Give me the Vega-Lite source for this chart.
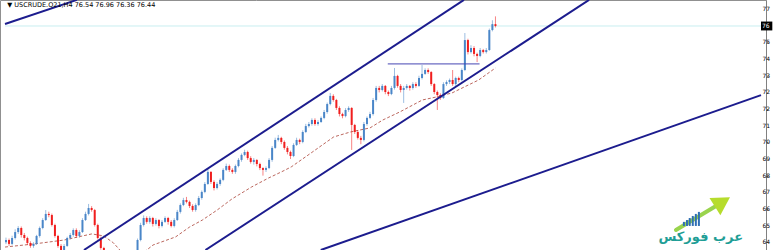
{
  "$schema": "https://vega.github.io/schema/vega-lite/v6.json",
  "width": 766,
  "height": 250,
  "padding": {"left": 0, "top": 0, "right": 10, "bottom": 0},
  "autosize": {"type": "none"},
  "background": "#ffffff",
  "config": {
    "view": {"stroke": "#909090", "strokeWidth": 1},
    "axisY": {"labels": false, "tickSize": 2, "tickColor": "#808080", "domainColor": "#808080", "grid": false}
  },
  "datasets": {
    "candles": [
      {"i":0,"o":64.75,"h":65.0,"l":64.65,"c":64.87},{"i":1,"o":64.87,"h":64.95,"l":64.55,"c":64.66},{"i":2,"o":64.66,"h":65.1,"l":64.6,"c":64.98},{"i":3,"o":64.98,"h":65.45,"l":64.9,"c":65.3},{"i":4,"o":65.3,"h":65.62,"l":65.2,"c":65.52},{"i":5,"o":65.52,"h":65.6,"l":65.0,"c":65.14},{"i":6,"o":65.14,"h":65.25,"l":64.85,"c":64.98},{"i":7,"o":64.98,"h":65.05,"l":64.6,"c":64.71},{"i":8,"o":64.71,"h":64.8,"l":64.45,"c":64.55},{"i":9,"o":64.55,"h":64.75,"l":64.45,"c":64.66},
      {"i":10,"o":64.66,"h":65.15,"l":64.6,"c":65.09},{"i":11,"o":65.09,"h":65.6,"l":65.0,"c":65.52},{"i":12,"o":65.52,"h":66.05,"l":65.45,"c":65.95},{"i":13,"o":65.95,"h":66.49,"l":65.9,"c":66.28},{"i":14,"o":66.28,"h":66.4,"l":66.1,"c":66.22},{"i":15,"o":66.22,"h":66.3,"l":65.6,"c":65.68},{"i":16,"o":65.68,"h":65.75,"l":65.0,"c":65.09},{"i":17,"o":65.09,"h":65.15,"l":64.45,"c":64.55},{"i":18,"o":64.55,"h":64.65,"l":64.1,"c":64.22},{"i":19,"o":64.22,"h":64.65,"l":64.15,"c":64.55},
      {"i":20,"o":64.55,"h":65.05,"l":64.5,"c":64.98},{"i":21,"o":64.98,"h":65.25,"l":64.9,"c":65.14},{"i":22,"o":65.14,"h":65.5,"l":65.05,"c":65.41},{"i":23,"o":65.41,"h":65.5,"l":65.0,"c":65.09},{"i":24,"o":65.09,"h":65.4,"l":65.0,"c":65.3},{"i":25,"o":65.3,"h":66.05,"l":65.25,"c":65.95},{"i":26,"o":65.95,"h":66.4,"l":65.9,"c":66.28},{"i":27,"o":66.28,"h":66.82,"l":66.2,"c":66.6},{"i":28,"o":66.6,"h":66.7,"l":66.4,"c":66.49},{"i":29,"o":66.49,"h":66.55,"l":65.6,"c":65.68},
      {"i":30,"o":65.68,"h":65.75,"l":64.9,"c":64.98},{"i":31,"o":64.98,"h":65.05,"l":64.35,"c":64.44},{"i":32,"o":64.44,"h":64.5,"l":63.9,"c":64.01},{"i":33,"o":64.01,"h":64.1,"l":63.6,"c":63.68},{"i":34,"o":63.68,"h":63.75,"l":63.4,"c":63.52},{"i":35,"o":63.52,"h":63.6,"l":63.25,"c":63.36},{"i":36,"o":63.36,"h":63.45,"l":63.1,"c":63.25},{"i":37,"o":63.25,"h":63.45,"l":63.15,"c":63.36},{"i":38,"o":63.36,"h":63.4,"l":63.0,"c":63.14},{"i":39,"o":63.14,"h":63.55,"l":63.05,"c":63.47},
      {"i":40,"o":63.47,"h":63.75,"l":63.4,"c":63.68},{"i":41,"o":63.68,"h":64.0,"l":63.6,"c":63.9},{"i":42,"o":63.9,"h":64.2,"l":63.85,"c":64.12},{"i":43,"o":64.12,"h":64.95,"l":64.05,"c":64.87},{"i":44,"o":64.87,"h":65.8,"l":64.8,"c":65.68},{"i":45,"o":65.68,"h":66.2,"l":65.6,"c":66.06},{"i":46,"o":66.06,"h":66.15,"l":65.75,"c":65.85},{"i":47,"o":65.85,"h":66.15,"l":65.75,"c":66.06},{"i":48,"o":66.06,"h":66.12,"l":65.6,"c":65.74},{"i":49,"o":65.74,"h":66.05,"l":65.65,"c":65.95},
      {"i":50,"o":65.95,"h":66.0,"l":65.5,"c":65.63},{"i":51,"o":65.63,"h":65.95,"l":65.55,"c":65.85},{"i":52,"o":65.85,"h":66.15,"l":65.8,"c":66.06},{"i":53,"o":66.06,"h":66.12,"l":65.7,"c":65.85},{"i":54,"o":65.85,"h":65.95,"l":65.55,"c":65.63},{"i":55,"o":65.63,"h":66.05,"l":65.55,"c":65.95},{"i":56,"o":65.95,"h":66.5,"l":65.9,"c":66.39},{"i":57,"o":66.39,"h":66.85,"l":66.3,"c":66.76},{"i":58,"o":66.76,"h":67.15,"l":66.7,"c":67.03},{"i":59,"o":67.03,"h":67.2,"l":66.85,"c":66.93},
      {"i":60,"o":66.93,"h":67.0,"l":66.6,"c":66.71},{"i":61,"o":66.71,"h":66.8,"l":66.4,"c":66.49},{"i":62,"o":66.49,"h":66.85,"l":66.4,"c":66.76},{"i":63,"o":66.76,"h":67.25,"l":66.7,"c":67.14},{"i":64,"o":67.14,"h":67.55,"l":67.05,"c":67.47},{"i":65,"o":67.47,"h":68.0,"l":67.4,"c":67.9},{"i":66,"o":67.9,"h":68.76,"l":67.85,"c":68.55},{"i":67,"o":68.55,"h":68.6,"l":67.9,"c":68.01},{"i":68,"o":68.01,"h":68.1,"l":67.55,"c":67.68},{"i":69,"o":67.68,"h":68.0,"l":67.6,"c":67.9},
      {"i":70,"o":67.9,"h":68.2,"l":67.8,"c":68.12},{"i":71,"o":68.12,"h":68.75,"l":68.05,"c":68.66},{"i":72,"o":68.66,"h":69.0,"l":68.6,"c":68.87},{"i":73,"o":68.87,"h":68.95,"l":68.55,"c":68.66},{"i":74,"o":68.66,"h":68.75,"l":68.45,"c":68.55},{"i":75,"o":68.55,"h":68.95,"l":68.45,"c":68.87},{"i":76,"o":68.87,"h":69.3,"l":68.8,"c":69.2},{"i":77,"o":69.2,"h":69.55,"l":69.1,"c":69.47},{"i":78,"o":69.47,"h":69.75,"l":69.4,"c":69.63},{"i":79,"o":69.63,"h":69.7,"l":69.2,"c":69.3},
      {"i":80,"o":69.3,"h":69.4,"l":69.0,"c":69.09},{"i":81,"o":69.09,"h":69.3,"l":68.95,"c":69.2},{"i":82,"o":69.2,"h":69.25,"l":68.85,"c":68.98},{"i":83,"o":68.98,"h":69.05,"l":68.65,"c":68.76},{"i":84,"o":68.76,"h":68.8,"l":68.35,"c":68.66},{"i":85,"o":68.66,"h":68.85,"l":68.55,"c":68.76},{"i":86,"o":68.76,"h":69.3,"l":68.7,"c":69.2},{"i":87,"o":69.2,"h":69.95,"l":69.1,"c":69.85},{"i":88,"o":69.85,"h":70.4,"l":69.8,"c":70.28},{"i":89,"o":70.28,"h":70.55,"l":70.2,"c":70.39},
      {"i":90,"o":70.39,"h":70.45,"l":70.05,"c":70.17},{"i":91,"o":70.17,"h":70.25,"l":69.75,"c":69.85},{"i":92,"o":69.85,"h":69.95,"l":69.5,"c":69.63},{"i":93,"o":69.63,"h":69.7,"l":69.25,"c":69.41},{"i":94,"o":69.41,"h":70.1,"l":69.35,"c":70.01},{"i":95,"o":70.01,"h":70.4,"l":69.95,"c":70.28},{"i":96,"o":70.28,"h":70.35,"l":70.05,"c":70.17},{"i":97,"o":70.17,"h":70.8,"l":70.1,"c":70.71},{"i":98,"o":70.71,"h":71.15,"l":70.65,"c":71.03},{"i":99,"o":71.03,"h":71.25,"l":70.95,"c":71.14},
      {"i":100,"o":71.14,"h":71.45,"l":71.05,"c":71.36},{"i":101,"o":71.36,"h":71.45,"l":71.05,"c":71.14},{"i":102,"o":71.14,"h":71.35,"l":71.05,"c":71.25},{"i":103,"o":71.25,"h":71.55,"l":71.2,"c":71.47},{"i":104,"o":71.47,"h":71.9,"l":71.4,"c":71.79},{"i":105,"o":71.79,"h":72.3,"l":71.7,"c":72.22},{"i":106,"o":72.22,"h":72.82,"l":72.15,"c":72.66},{"i":107,"o":72.66,"h":72.75,"l":72.35,"c":72.44},{"i":108,"o":72.44,"h":72.5,"l":71.9,"c":72.01},{"i":109,"o":72.01,"h":72.1,"l":71.55,"c":71.68},
      {"i":110,"o":71.68,"h":71.75,"l":71.45,"c":71.57},{"i":111,"o":71.57,"h":72.0,"l":71.5,"c":71.9},{"i":112,"o":71.9,"h":72.1,"l":71.8,"c":72.01},{"i":113,"o":72.01,"h":72.05,"l":69.74,"c":71.09},{"i":114,"o":71.09,"h":71.15,"l":70.6,"c":70.71},{"i":115,"o":70.71,"h":70.8,"l":70.3,"c":70.39},{"i":116,"o":70.39,"h":70.5,"l":70.05,"c":70.28},{"i":117,"o":70.28,"h":71.25,"l":70.2,"c":71.14},{"i":118,"o":71.14,"h":71.55,"l":71.05,"c":71.47},{"i":119,"o":71.47,"h":71.8,"l":71.4,"c":71.68},
      {"i":120,"o":71.68,"h":72.55,"l":71.6,"c":72.44},{"i":121,"o":72.44,"h":73.2,"l":72.35,"c":73.09},{"i":122,"o":73.09,"h":73.2,"l":72.85,"c":72.98},{"i":123,"o":72.98,"h":73.3,"l":72.9,"c":73.2},{"i":124,"o":73.2,"h":73.25,"l":72.75,"c":72.87},{"i":125,"o":72.87,"h":72.95,"l":72.65,"c":72.76},{"i":126,"o":72.76,"h":73.2,"l":72.7,"c":73.09},{"i":127,"o":73.09,"h":74.17,"l":73.0,"c":73.74},{"i":128,"o":73.74,"h":73.8,"l":73.1,"c":73.2},{"i":129,"o":73.2,"h":73.3,"l":72.85,"c":72.98},
      {"i":130,"o":72.98,"h":73.2,"l":72.28,"c":73.09},{"i":131,"o":73.09,"h":73.3,"l":73.0,"c":73.2},{"i":132,"o":73.2,"h":73.25,"l":72.95,"c":73.09},{"i":133,"o":73.09,"h":73.4,"l":73.0,"c":73.3},{"i":134,"o":73.3,"h":73.4,"l":73.1,"c":73.2},{"i":135,"o":73.2,"h":73.75,"l":73.15,"c":73.63},{"i":136,"o":73.63,"h":74.33,"l":73.55,"c":73.85},{"i":137,"o":73.85,"h":74.15,"l":73.8,"c":74.06},{"i":138,"o":74.06,"h":74.15,"l":73.85,"c":73.95},{"i":139,"o":73.95,"h":74.0,"l":73.2,"c":73.3},
      {"i":140,"o":73.3,"h":73.35,"l":72.75,"c":72.87},{"i":141,"o":72.87,"h":72.95,"l":71.9,"c":72.71},{"i":142,"o":72.71,"h":72.8,"l":72.45,"c":72.55},{"i":143,"o":72.55,"h":73.4,"l":72.5,"c":73.3},{"i":144,"o":73.3,"h":73.5,"l":73.2,"c":73.41},{"i":145,"o":73.41,"h":73.6,"l":73.3,"c":73.52},{"i":146,"o":73.52,"h":74.06,"l":73.2,"c":73.3},{"i":147,"o":73.3,"h":73.7,"l":73.2,"c":73.63},{"i":148,"o":73.63,"h":73.7,"l":73.4,"c":73.52},{"i":149,"o":73.52,"h":74.15,"l":73.45,"c":74.06},
      {"i":150,"o":74.06,"h":76.06,"l":74.0,"c":75.68},{"i":151,"o":75.68,"h":75.75,"l":74.9,"c":75.03},{"i":152,"o":75.03,"h":75.4,"l":74.95,"c":75.25},{"i":153,"o":75.25,"h":75.35,"l":74.8,"c":74.93},{"i":154,"o":74.93,"h":75.0,"l":74.49,"c":74.82},{"i":155,"o":74.82,"h":75.25,"l":74.75,"c":75.14},{"i":156,"o":75.14,"h":75.2,"l":74.95,"c":75.03},{"i":157,"o":75.03,"h":75.25,"l":74.95,"c":75.14},{"i":158,"o":75.14,"h":76.3,"l":75.1,"c":76.22},{"i":159,"o":76.22,"h":76.75,"l":76.15,"c":76.54},
      {"i":160,"o":76.54,"h":76.96,"l":76.36,"c":76.44}
    ],
    "ma": [
      {"i":-0.32,"v":64.49},{"i":9.35,"v":64.66},{"i":19.03,"v":64.87},{"i":28.06,"v":65.2},{"i":31.94,"v":65.09},{"i":35.16,"v":64.71},{"i":37.8,"v":64.22},{"i":41,"v":63.9},{"i":44.3,"v":64.1},{"i":48.06,"v":64.6},{"i":55.48,"v":65.04},{"i":60.0,"v":65.57},{"i":64.19,"v":65.95},{"i":69.03,"v":66.49},{"i":73.87,"v":67.09},{"i":80.32,"v":67.74},{"i":85.81,"v":68.22},{"i":90.0,"v":68.55},{"i":93.23,"v":68.82},{"i":99.68,"v":69.57},{"i":107.1,"v":70.44},{"i":112.6,"v":70.71},{"i":119.0,"v":70.93},{"i":123.2,"v":71.36},{"i":128.7,"v":71.79},{"i":136.1,"v":72.44},{"i":140.6,"v":72.6},{"i":145.8,"v":72.82},{"i":154.5,"v":73.52},{"i":160.0,"v":74.17}
    ],
    "trend": [
      {"x1":25.5,"y1":64.33,"x2":149.7,"y2":77.85},
      {"x1":65.2,"y1":64.33,"x2":190.6,"y2":77.85},
      {"x1":102.9,"y1":64.33,"x2":246.8,"y2":72.7},
      {"x1":-0.32,"y1":76.55,"x2":23.2,"y2":77.85}
    ],
    "level": [{"x1":124.8,"y1":74.39,"x2":154.8,"y2":74.39}],
    "bid": [{"x1":-0.32,"y1":76.44,"x2":246.8,"y2":76.44}],
    "ticks": [{"i":246.8,"i2":250.5,"p1":76.2,"p2":76.68,"p":76.44,"t":"76"}],
    "priceLabels": [
      {"i":247.3,"p":77.35,"t":"77"},{"i":247.3,"p":75.55,"t":"75"},{"i":247.3,"p":74.65,"t":"74"},{"i":247.3,"p":73.75,"t":"73"},{"i":247.3,"p":72.85,"t":"72"},{"i":247.3,"p":71.95,"t":"72"},{"i":247.3,"p":71.05,"t":"71"},{"i":247.3,"p":70.15,"t":"70"},{"i":247.3,"p":69.25,"t":"69"},{"i":247.3,"p":68.35,"t":"68"},{"i":247.3,"p":67.45,"t":"67"},{"i":247.3,"p":66.55,"t":"66"},{"i":247.3,"p":65.65,"t":"65"},{"i":247.3,"p":64.75,"t":"64"}
    ],
    "title": [{"i":0.4,"p":77.58,"t":"▼ USCRUDE.Q21,H4  76.54 76.96 76.36 76.44"}],
    "logoBars": [
      {"i":221.6,"b":65.63,"t":65.85},{"i":222.6,"b":65.63,"t":65.95},{"i":223.5,"b":65.63,"t":66.06},{"i":224.5,"b":65.63,"t":66.17},{"i":225.5,"b":65.63,"t":66.28},{"i":226.5,"b":65.63,"t":66.39}
    ],
    "logoArrow": [{"x1":219.0,"y1":65.41,"x2":232.5,"y2":66.75}],
    "logoHead": [{"i":234.2,"p":66.93}],
    "logoText": [{"i":227.1,"p":65.04,"t":"عرب فوركس"}]
  },
  "layer": [
    {
      "data": {"name": "bid"},
      "mark": {"type": "rule", "color": "#c8eef0", "strokeWidth": 1, "clip": true},
      "encoding": {
        "x": {"field": "x1", "type": "quantitative", "scale": {"domain": [-0.32, 246.8], "nice": false, "zero": false}, "axis": null},
        "x2": {"field": "x2"},
        "y": {"field": "y1", "type": "quantitative", "scale": {"domain": [64.33, 77.845], "nice": false, "zero": false},
          "axis": {"orient": "right", "title": null, "labels": false,
            "values": [77.35, 75.55, 74.65, 73.75, 72.85, 71.95, 71.05, 70.15, 69.25, 68.35, 67.45, 66.55, 65.65, 64.75]}},
        "y2": {"field": "y2"}
      }
    },
    {
      "data": {"name": "ma"},
      "mark": {"type": "line", "color": "#b4564c", "strokeWidth": 1, "strokeDash": [3, 2], "opacity": 0.9, "clip": true},
      "encoding": {
        "x": {"field": "i", "type": "quantitative", "title": null},
        "y": {"field": "v", "type": "quantitative", "title": null}
      }
    },
    {
      "data": {"name": "candles"},
      "mark": {"type": "rule", "strokeWidth": 1, "opacity": 0.55, "clip": true},
      "encoding": {
        "x": {"field": "i", "type": "quantitative", "title": null},
        "y": {"field": "l", "type": "quantitative", "title": null},
        "y2": {"field": "h"},
        "color": {"condition": {"test": "datum.c >= datum.o", "value": "#4a86c8"}, "value": "#f01e1e"}
      }
    },
    {
      "data": {"name": "candles"},
      "mark": {"type": "bar", "size": 2, "clip": true},
      "encoding": {
        "x": {"field": "i", "type": "quantitative", "title": null},
        "y": {"field": "o", "type": "quantitative", "title": null},
        "y2": {"field": "c"},
        "color": {"condition": {"test": "datum.c >= datum.o", "value": "#4a86c8"}, "value": "#f01e1e"}
      }
    },
    {
      "data": {"name": "level"},
      "mark": {"type": "rule", "color": "#4646b4", "strokeWidth": 1, "clip": true},
      "encoding": {
        "x": {"field": "x1", "type": "quantitative", "title": null},
        "x2": {"field": "x2"},
        "y": {"field": "y1", "type": "quantitative", "title": null},
        "y2": {"field": "y2"}
      }
    },
    {
      "data": {"name": "trend"},
      "mark": {"type": "rule", "color": "#1c1c8e", "strokeWidth": 2, "clip": true},
      "encoding": {
        "x": {"field": "x1", "type": "quantitative", "title": null},
        "x2": {"field": "x2"},
        "y": {"field": "y1", "type": "quantitative", "title": null},
        "y2": {"field": "y2"}
      }
    },
    {
      "data": {"name": "title"},
      "mark": {"type": "text", "align": "left", "baseline": "middle", "font": "DejaVu Sans", "fontSize": 6.5, "color": "#000000"},
      "encoding": {
        "x": {"field": "i", "type": "quantitative", "title": null},
        "y": {"field": "p", "type": "quantitative", "title": null},
        "text": {"field": "t"}
      }
    },
    {
      "data": {"name": "logoArrow"},
      "mark": {"type": "rule", "color": "#8fcf3a", "strokeWidth": 4, "strokeCap": "round", "opacity": 0.9},
      "encoding": {
        "x": {"field": "x1", "type": "quantitative", "title": null},
        "x2": {"field": "x2"},
        "y": {"field": "y1", "type": "quantitative", "title": null},
        "y2": {"field": "y2"}
      }
    },
    {
      "data": {"name": "logoHead"},
      "mark": {"type": "point", "shape": "triangle-up", "filled": true, "size": 420, "angle": 58, "color": "#b6dc2c", "opacity": 1},
      "encoding": {
        "x": {"field": "i", "type": "quantitative", "title": null},
        "y": {"field": "p", "type": "quantitative", "title": null}
      }
    },
    {
      "data": {"name": "logoBars"},
      "mark": {"type": "rule", "color": "#2f6fb4", "strokeWidth": 2},
      "encoding": {
        "x": {"field": "i", "type": "quantitative", "title": null},
        "y": {"field": "b", "type": "quantitative", "title": null},
        "y2": {"field": "t"}
      }
    },
    {
      "data": {"name": "logoText"},
      "mark": {"type": "text", "align": "center", "baseline": "middle", "font": "DejaVu Sans", "fontSize": 13, "fontWeight": "bold", "color": "#1f9e96"},
      "encoding": {
        "x": {"field": "i", "type": "quantitative", "title": null},
        "y": {"field": "p", "type": "quantitative", "title": null},
        "text": {"field": "t"}
      }
    },
    {
      "data": {"name": "priceLabels"},
      "mark": {"type": "text", "align": "left", "baseline": "middle", "font": "DejaVu Sans", "fontSize": 6, "color": "#000000", "clip": false},
      "encoding": {
        "x": {"field": "i", "type": "quantitative", "title": null},
        "y": {"field": "p", "type": "quantitative", "title": null},
        "text": {"field": "t"}
      }
    },
    {
      "data": {"name": "ticks"},
      "mark": {"type": "rect", "color": "#000000", "clip": false},
      "encoding": {
        "x": {"field": "i", "type": "quantitative", "title": null},
        "x2": {"field": "i2"},
        "y": {"field": "p1", "type": "quantitative", "title": null},
        "y2": {"field": "p2"}
      }
    },
    {
      "data": {"name": "ticks"},
      "mark": {"type": "text", "align": "left", "baseline": "middle", "dx": 1, "font": "DejaVu Sans", "fontSize": 6, "color": "#ffffff", "clip": false},
      "encoding": {
        "x": {"field": "i", "type": "quantitative", "title": null},
        "y": {"field": "p", "type": "quantitative", "title": null},
        "text": {"field": "t"}
      }
    }
  ]
}
